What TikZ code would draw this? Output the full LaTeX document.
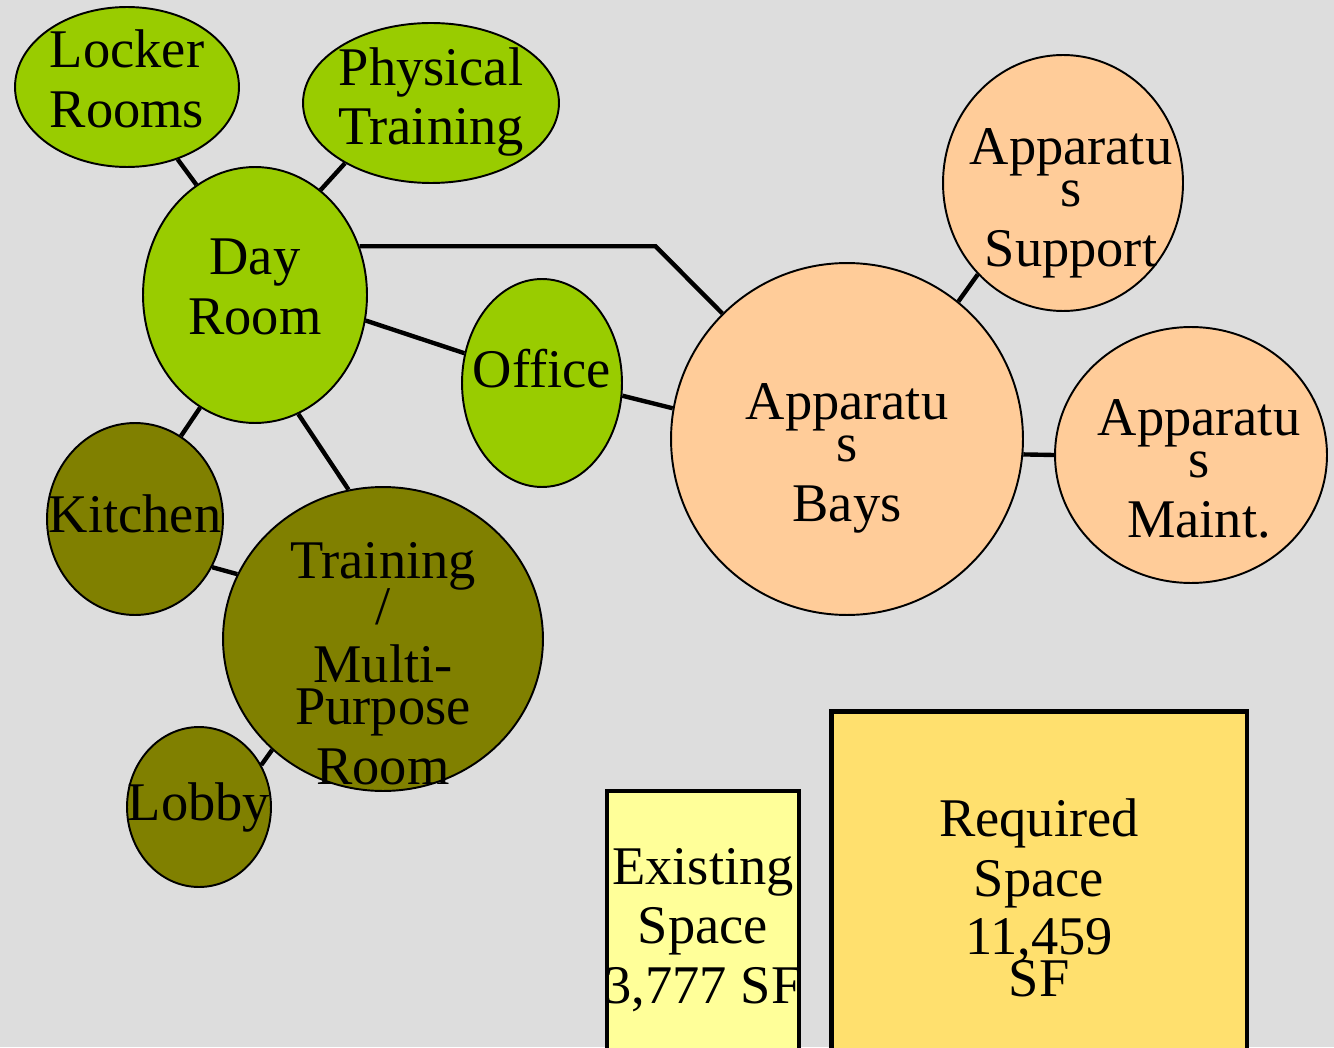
\documentclass[tikz,border=0pt]{standalone}
\usepackage{fontspec}
\setmainfont{Liberation Serif}
\usetikzlibrary{shapes.geometric}

\definecolor{bgGray}{HTML}{DDDDDD}
\definecolor{limeGreen}{HTML}{99CC00}
\definecolor{oliveGreen}{HTML}{808000}
\definecolor{peach}{HTML}{FFCC99}
\definecolor{paleYellow}{HTML}{FFFF99}
\definecolor{gold}{HTML}{FFE06E}

\begin{document}
\begin{tikzpicture}[
    x=0.02cm, y=-0.02cm,
    room/.style={ellipse, draw, line width=1.1pt, inner sep=0pt},
    area/.style={rectangle, draw, line width=2.8pt, inner sep=0pt},
    lbl/.style={align=center, inner sep=0pt, font=\fontsize{31}{34}\selectfont},
    link/.style={line width=2.5pt}
]
    \fill[bgGray] (0,0) rectangle (1334,1047);
    \clip (0,0) rectangle (1334,1047);

    % staff side
    \node[room, fill=limeGreen, minimum width=4.48cm, minimum height=3.2cm] (locker) at (127,87) {};
    \node[room, fill=limeGreen, minimum width=5.12cm, minimum height=3.2cm] (physical) at (431,103) {};
    \node[room, fill=limeGreen, minimum width=4.48cm, minimum height=5.12cm] (day) at (255,295) {};
    \node[room, fill=limeGreen, minimum width=3.2cm, minimum height=4.16cm] (office) at (542,383) {};
    \node[room, fill=oliveGreen, minimum width=3.52cm, minimum height=3.84cm] (kitchen) at (135,519) {};
    \node[room, fill=oliveGreen, minimum width=6.4cm, minimum height=6.08cm] (training) at (383,639) {};
    \node[room, fill=oliveGreen, minimum width=2.88cm, minimum height=3.2cm] (lobby) at (199,807) {};

    % apparatus side
    \node[room, fill=peach, minimum width=7.04cm, minimum height=7.04cm] (bays) at (847,439) {};
    \node[room, fill=peach, minimum width=4.8cm, minimum height=5.12cm] (support) at (1063,183) {};
    \node[room, fill=peach, minimum width=5.44cm, minimum height=5.12cm] (maint) at (1191,455) {};

    % space totals
    \node[area, fill=paleYellow, minimum width=3.84cm, minimum height=5.38cm] (existing) at (703,925.5) {};
    \node[area, fill=gold, minimum width=8.32cm, minimum height=6.98cm] (required) at (1039,885.5) {};

    \draw[link] (locker.305) -- (day.118);
    \draw[link] (physical.215) -- (day.58);
    \draw[link] (day.25) -- ++(296,0) coordinate (bend) -- (bays);
    \draw[link] (day.347) -- (office.159);
    \draw[link] (office.351) -- (bays.170);
    \draw[link] (day.244) -- (kitchen.61);
    \draw[link] (day.290) -- (training.103);
    \draw[link] (kitchen.328) -- (training.156);
    \draw[link] (lobby.34) -- (training.225);
    \draw[link] (support.227) -- (bays.51);
    \draw[link] (bays.355) -- (maint.west);

    \node[lbl] (lockerT) at (127,79) {Locker\\Rooms};
    \node[lbl] (physicalT) at (431,102) {Physical\\Training};
    \node[lbl] (dayT) at (255,287) {Day\\Room};
    \node[lbl] (officeT) at (542,369) {Office};
    \node[lbl] (kitchenT) at (135,514) {Kitchen};
    \node[lbl] (trainingT) at (383,664) {Training\\[-8pt]/\\[-1pt]Multi-\\[-10pt]Purpose\\Room};
    \node[lbl] (lobbyT) at (199,807) {Lobby};
    \node[lbl] (baysT) at (847,458) {Apparatu\\[-10pt]s\\Bays};
    \node[lbl] (supportT) at (1071,203) {Apparatu\\[-10pt]s\\Support};
    \node[lbl] (maintT) at (1199,469) {Apparatu\\[-10pt]s\\Maint.};
    \node[lbl] (existingT) at (703,930) {Existing\\Space\\3,777 SF};
    \node[lbl] (requiredT) at (1039,898) {Required\\Space\\[-1pt]11,459\\[-10pt]SF};
\end{tikzpicture}
\end{document}
